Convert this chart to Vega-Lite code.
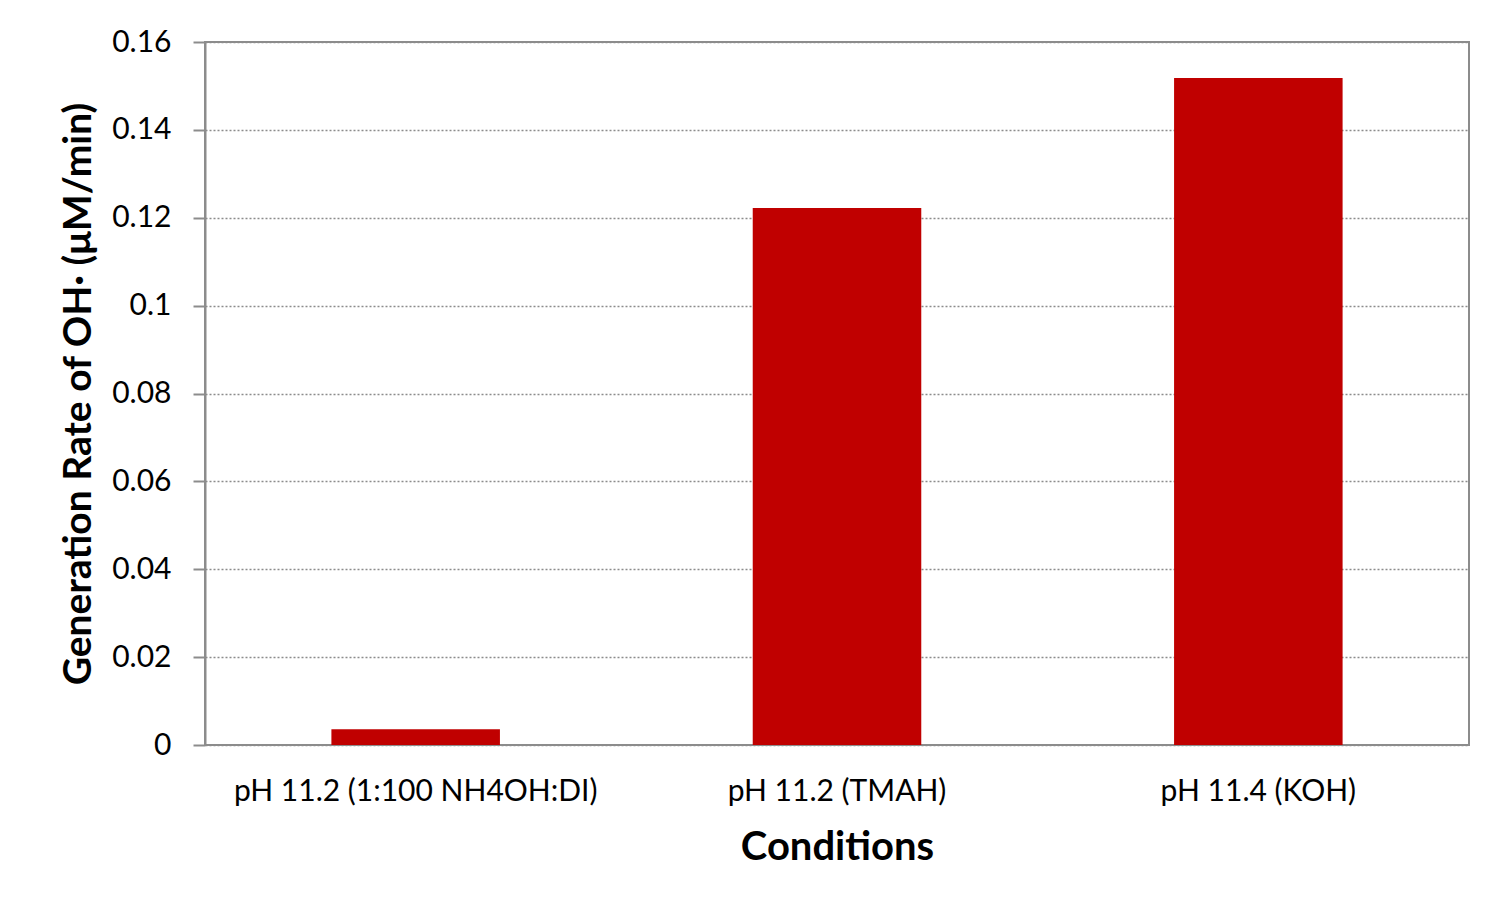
{
  "$schema": "https://vega.github.io/schema/vega-lite/v6.json",
  "autosize": "none",
  "width": 1264,
  "height": 703,
  "padding": {"left": 205, "top": 42, "right": 30, "bottom": 162},
  "background": "white",
  "data": {
    "values": [
      {"condition": "pH 11.2 (1:100 NH4OH:DI)", "rate": 0.0036},
      {"condition": "pH 11.2 (TMAH)", "rate": 0.1222},
      {"condition": "pH 11.4 (KOH)", "rate": 0.1518}
    ]
  },
  "mark": {"type": "bar", "color": "#C00000"},
  "encoding": {
    "x": {
      "field": "condition",
      "type": "nominal",
      "sort": null,
      "scale": {"paddingInner": 0.6, "paddingOuter": 0.3},
      "axis": {
        "title": "Conditions",
        "labelAngle": 0,
        "labelLimit": 0,
        "ticks": false,
        "labelPadding": 31,
        "titlePadding": 21,
        "domain": false,
        "grid": false
      }
    },
    "y": {
      "field": "rate",
      "type": "quantitative",
      "scale": {"domain": [0, 0.16], "nice": false},
      "axis": {
        "title": "Generation Rate of OH\u2219 (\u03bcM/min)",
        "titleFontSize": 39,
        "values": [0, 0.02, 0.04, 0.06, 0.08, 0.1, 0.12, 0.14, 0.16],
        "labelExpr": "datum.value == 0 ? '0' : format(datum.value, '.2~f')",
        "tickSize": 12,
        "labelPadding": 22,
        "titlePadding": 13,
        "grid": true,
        "gridDash": [2, 2],
        "gridColor": "#8c8c8c",
        "gridWidth": 1.5
      }
    }
  },
  "config": {
    "font": "Lato",
    "view": {"stroke": "#8c8c8c", "strokeWidth": 2},
    "axis": {
      "domainColor": "#8c8c8c",
      "domainWidth": 2,
      "tickColor": "#8c8c8c",
      "tickWidth": 2,
      "labelFont": "Lato",
      "labelFontSize": 30,
      "labelColor": "#000000",
      "titleFont": "Lato",
      "titleFontSize": 40,
      "titleFontWeight": "bold",
      "titleColor": "#000000"
    }
  }
}
